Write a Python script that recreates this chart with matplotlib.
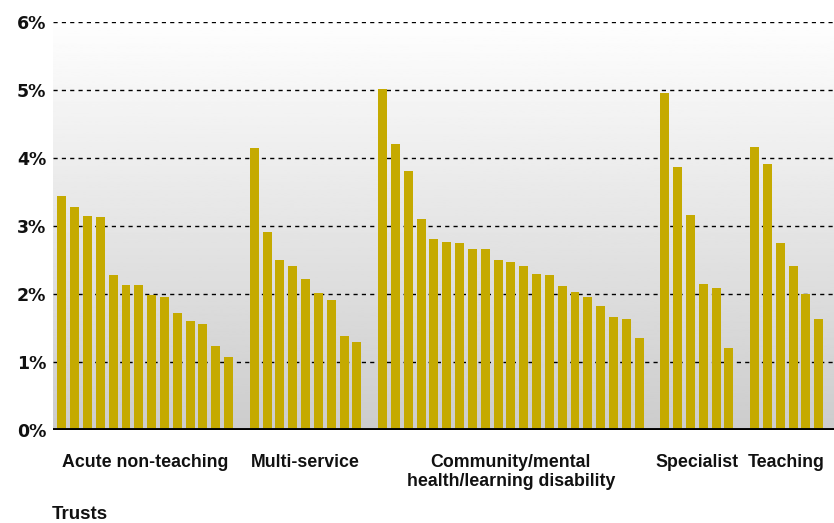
import numpy as np
import matplotlib.pyplot as plt

# sickness absence rates by trust type (%)
groups = ["Acute non-teaching", "Multi-service",
          "Community/mental\nhealth/learning disability", "Specialist", "Teaching"]
acute = [3.44, 3.28, 3.15, 3.14, 2.28, 2.13, 2.13, 1.99, 1.96, 1.72, 1.60, 1.56, 1.24, 1.07]
multi = [4.15, 2.91, 2.50, 2.41, 2.22, 2.02, 1.91, 1.38, 1.30]
community = [5.02, 4.21, 3.81, 3.11, 2.81, 2.77, 2.75, 2.66, 2.66, 2.50, 2.47,
             2.41, 2.30, 2.28, 2.12, 2.03, 1.96, 1.83, 1.66, 1.63, 1.35]
specialist = [4.96, 3.87, 3.16, 2.15, 2.09, 1.21]
teaching = [4.17, 3.92, 2.75, 2.41, 2.00, 1.63]
yticks = [0, 1, 2, 3, 4, 5, 6]
ytick_labels = ["0%", "1%", "2%", "3%", "4%", "5%", "6%"]

series = [acute, multi, community, specialist, teaching]
bar_color = "#C5AA00"

fig = plt.figure(figsize=(8.34, 5.23), dpi=100)
ax = fig.add_axes([53 / 834, 1 - 430 / 523, 1 - 53 / 834, (430 - 22.3) / 523])

x_lo, x_hi = -0.69, 60.19
ax.set_xlim(x_lo, x_hi)
ax.set_ylim(0, 6)

# background gradient white -> light grey
grad = np.linspace(0.80, 0.995, 256).reshape(-1, 1)
ax.imshow(grad, extent=[x_lo, x_hi, 0, 6], origin="lower", aspect="auto",
          cmap="gray", vmin=0, vmax=1, zorder=0)

pos = 0
centers = []
for vals in series:
    xs = np.arange(pos, pos + len(vals))
    ax.bar(xs, vals, width=0.7, color=bar_color, zorder=3)
    centers.append(xs.mean())
    pos += len(vals) + 1

for y in yticks[1:]:
    ax.axhline(y, color="black", lw=1.0, ls=(0, (3, 3)), zorder=2)
ax.axhline(0, color="black", lw=2.8, zorder=4)

for s in ax.spines.values():
    s.set_visible(False)
ax.set_xticks([])
ax.set_yticks(yticks)
ax.set_yticklabels(ytick_labels, fontsize=12.5, fontweight="bold", color="#111111")
ax.tick_params(axis="y", length=0, pad=5)

for c, name in zip(centers, groups):
    ax.text(c, -0.35, name, ha="center", va="top", fontsize=12.8, fontweight="bold",
            family="Liberation Sans", linespacing=1.15, color="#111111")

fig.text(52 / 834, 1 - 519 / 523, "Trusts", ha="left", va="baseline", fontsize=13.5,
         fontweight="bold", family="Liberation Sans", color="#111111")

fig.savefig("out.png", dpi=100)
